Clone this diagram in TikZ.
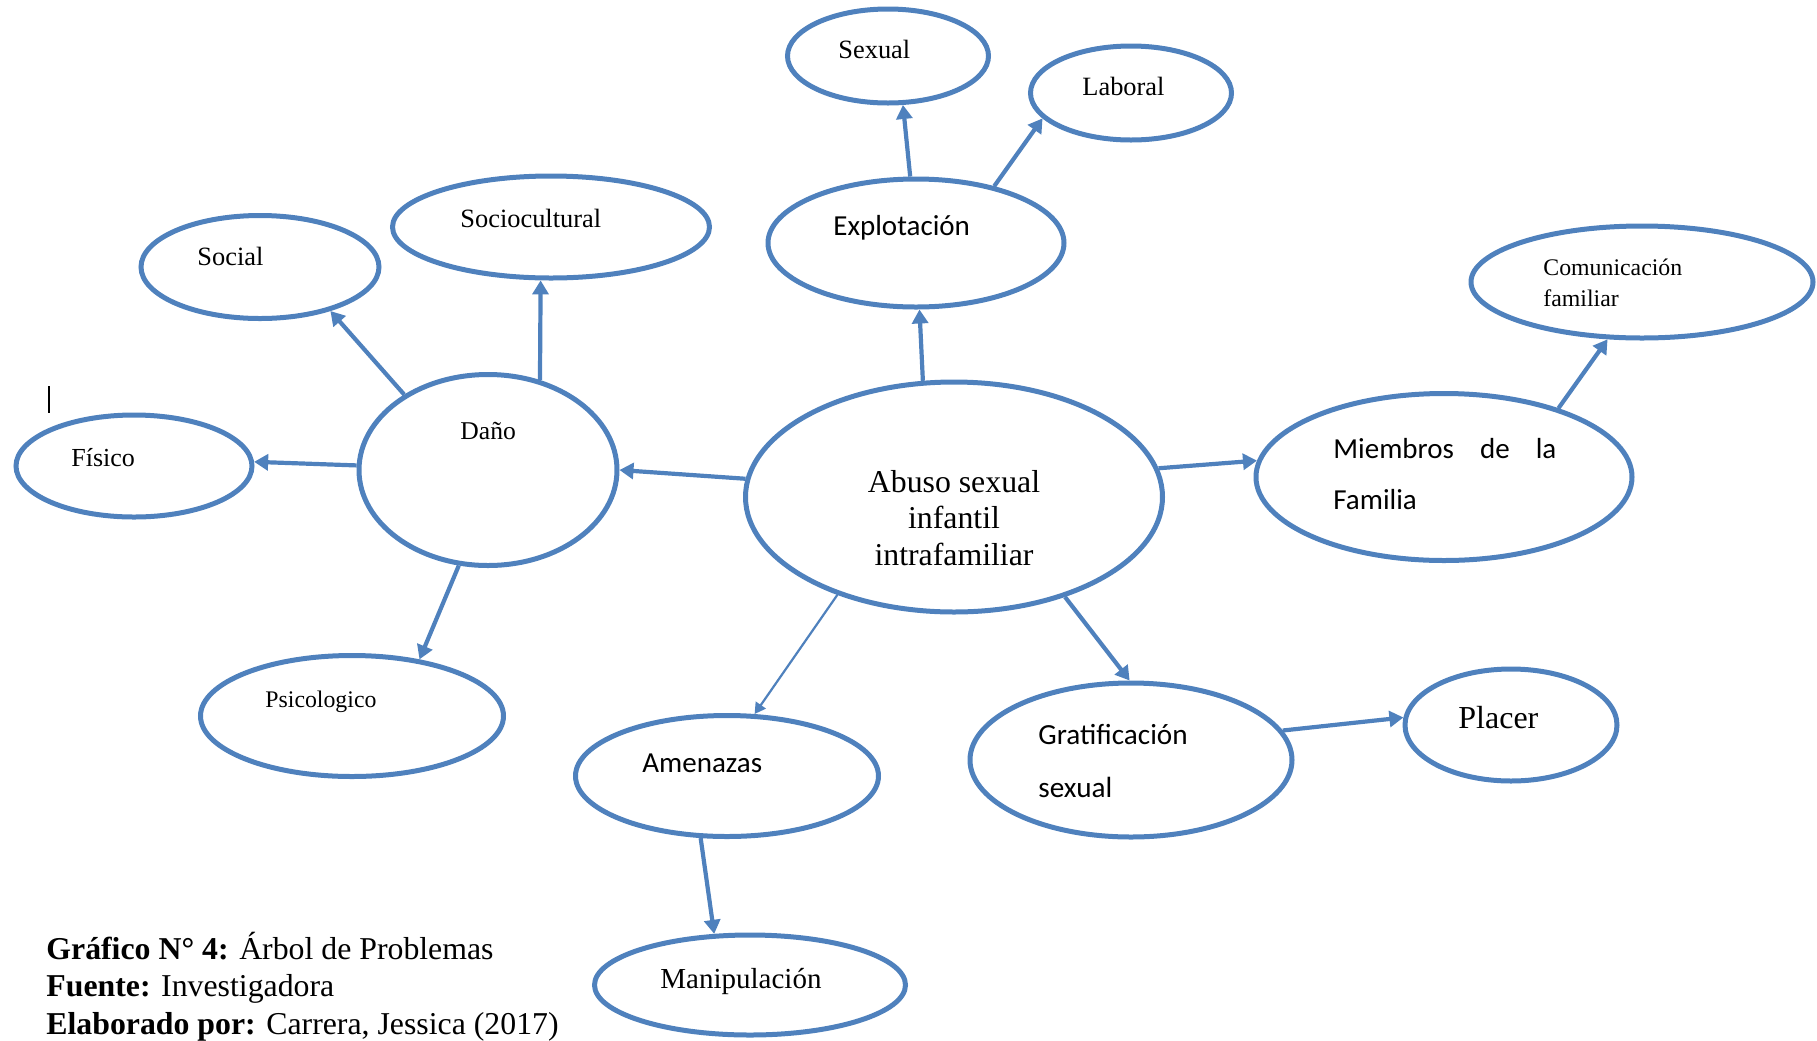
\documentclass[tikz,border=0pt]{standalone}
\usepackage{fontspec}
\setmainfont{Liberation Serif}
\newfontfamily\calib{Carlito}
\usetikzlibrary{shapes.geometric,arrows.meta}
\definecolor{bl}{RGB}{79,129,189}
\tikzset{
  ell/.style={ellipse, draw=bl, line width=2.5pt, inner sep=0pt},
  arr/.style={draw=bl, line width=2.1pt, -{Triangle[length=7pt,width=8pt]}},
  thinarr/.style={draw=bl, line width=1.1pt, -{Triangle[length=5.5pt,width=6pt]}},
  txt/.style={inner sep=0pt, anchor=base west, text=black},
  ser/.style={font=\fontsize{#1}{#1}\selectfont},
  cal/.style={font=\calib\fontsize{#1}{#1}\selectfont},
}
\begin{document}
\begin{tikzpicture}[x=0.5pt,y=-0.5pt]
\useasboundingbox (0,0) rectangle (1817,1040);
% ellipses
\node[ell, minimum width=100.5pt, minimum height=47pt] (sexual) at (888,56) {};
\node[ell, minimum width=100.5pt, minimum height=47pt] (laboral) at (1131,93) {};
\node[ell, minimum width=148pt, minimum height=64pt] (explot) at (916,243) {};
\node[ell, minimum width=158.5pt, minimum height=51pt] (socio) at (551,227) {};
\node[ell, minimum width=119pt, minimum height=51.5pt] (social) at (260,267) {};
\node[ell, minimum width=171pt, minimum height=56pt] (comun) at (1642,282) {};
\node[ell, minimum width=129pt, minimum height=95.5pt] (dano) at (488,470) {};
\node[ell, minimum width=118pt, minimum height=51pt] (fisico) at (134,466) {};
\node[ell, minimum width=208.5pt, minimum height=115pt] (abuso) at (954,497) {};
\node[ell, minimum width=188pt, minimum height=83.5pt] (miembros) at (1444,477) {};
\node[ell, minimum width=151.5pt, minimum height=60.5pt] (psico) at (352,716) {};
\node[ell, minimum width=151.5pt, minimum height=60.5pt] (amen) at (727,776) {};
\node[ell, minimum width=161pt, minimum height=77pt] (grat) at (1131,760) {};
\node[ell, minimum width=106pt, minimum height=56pt] (placer) at (1511,725) {};
\node[ell, minimum width=155.5pt, minimum height=50pt] (manip) at (750,985) {};
% texts
\node[txt, ser=13.2] (tsexual) at (838,58) {Sexual};
\node[txt, ser=13.2] (tlaboral) at (1082,95) {Laboral};
\node[txt, cal=14.5] (texplot) at (833,235) {Explotación};
\node[txt, ser=13.2] (tsocio) at (460,227) {Sociocultural};
\node[txt, ser=13.2] (tsocial) at (197,265) {Social};
\node[txt, align=left, font=\fontsize{11.9}{15.5}\selectfont] (tcomun) at (1543,306) {Comunicación\\familiar};
\node[txt, ser=12.8] (tdano) at (460,439) {Daño};
\node[txt, ser=13] (tfisico) at (71,466) {Físico};
\node[inner sep=0pt, anchor=base, align=center, font=\fontsize{15.9}{18.25}\selectfont] (tabuso) at (954,565) {Abuso sexual\\infantil\\intrafamiliar};
\node[txt, align=left, font=\calib\fontsize{14.5}{25.5}\selectfont] (tmiembros) at (1333,509) {\makebox[111.5pt][s]{Miembros\hfill de\hfill la}\\Familia};
\node[txt, ser=11.9] (tpsico) at (265,707) {Psicologico};
\node[txt, cal=14.5] (tamen) at (642,772) {Amenazas};
\node[txt, align=left, font=\calib\fontsize{14.6}{26.5}\selectfont] (tgrat) at (1038,797) {Gratificación\\sexual};
\node[txt, ser=16] (tplacer) at (1458,728) {Placer};
\node[txt, ser=14.5] (tmanip) at (660,988) {Manipulación};
\node[txt, align=left, font=\fontsize{15.9}{18.75}\selectfont] (caption) at (46,1034) {\textbf{Gráfico N° 4:} Árbol de Problemas\\\textbf{Fuente:} Investigadora\\\textbf{Elaborado por:} Carrera, Jessica (2017)};
% cursor mark
\coordinate (cur1) at (49,386);
\coordinate (cur2) at (49,413);
\draw[black, line width=0.6pt] (cur1) -- (cur2);
% connectors
\draw[arr] (abuso.105) -- (explot.273);
\draw[arr] (explot.95) -- (sexual.287);
\draw[arr] (explot.36) -- (laboral.196);
\draw[arr] (abuso.175) -- (dano.0);
\draw[arr] (dano.60) -- (socio.259);
\draw[arr] (dano.138) -- (social.328);
\draw[arr] (dano.178) -- (fisico.2);
\draw[arr] (dano.253) -- (psico.40);
\draw[arr] (abuso.8) -- (miembros.175);
\draw[arr] (miembros.31) -- (comun.239);
\draw[thinarr] (abuso.220) -- (amen.66);
\draw[arr] (abuso.318) -- (grat.91);
\draw[arr] (grat.11) -- (placer.176);
\draw[arr] (amen.247) -- (manip.125);
\end{tikzpicture}
\end{document}
